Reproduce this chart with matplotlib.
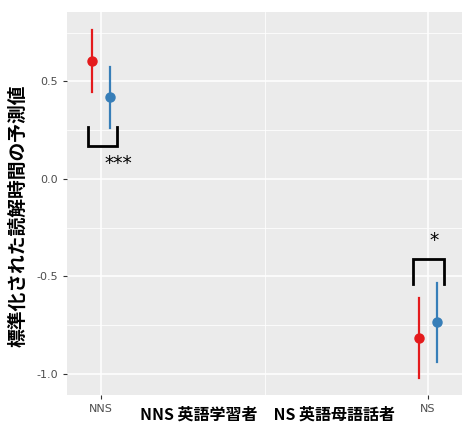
import matplotlib
matplotlib.use('Agg')
import matplotlib.pyplot as plt
from matplotlib.ticker import MultipleLocator

groups = ['NNS', 'NS']
conditions = ['red', 'blue']
red_mean = [0.605, -0.815]
red_low = [0.446, -1.02]
red_high = [0.764, -0.61]
blue_mean = [0.42, -0.733]
blue_low = [0.26, -0.938]
blue_high = [0.574, -0.533]

# significance brackets: x-left, x-right, y-open, y-closed, label
sig_nns = (0.960, 1.049, 0.267, 0.169, '***')
sig_ns = (1.954, 2.049, -0.538, -0.41, '*')

colors = {'red': '#E41A1C', 'blue': '#377EB8'}
dodge = 0.026

fig = plt.figure(figsize=(4.62, 4.25), dpi=100)
ax = fig.add_axes([67 / 462, 1 - 395 / 425, 1 - 67 / 462, 383 / 425])
ax.set_facecolor('#EBEBEB')

xs = [1, 2]
for i, x in enumerate(xs):
    ax.plot([x - dodge] * 2, [red_low[i], red_high[i]], color=colors['red'], lw=1.6, zorder=3)
    ax.plot(x - dodge, red_mean[i], 'o', color=colors['red'], ms=6.5, zorder=4)
    ax.plot([x + dodge] * 2, [blue_low[i], blue_high[i]], color=colors['blue'], lw=1.6, zorder=3)
    ax.plot(x + dodge, blue_mean[i], 'o', color=colors['blue'], ms=6.5, zorder=4)

for x0, x1, y_open, y_closed, lab in [sig_nns, sig_ns]:
    ax.plot([x0, x0, x1, x1], [y_open, y_closed, y_closed, y_open], color='black', lw=2.0,
            solid_joinstyle='miter', zorder=3)
ax.text(1.052, 0.077, sig_nns[4], ha='center', va='center', fontsize=13.5, color='black')
ax.text(2.018, -0.318, sig_ns[4], ha='center', va='center', fontsize=13.5, color='black')

ax.set_xlim(1 - 34 / 327, 2 + 34 / 327)
ax.set_ylim(-1.108, 0.856)
ax.set_xticks(xs)
ax.set_xticklabels(groups)
ax.set_xticks([1.5], minor=True)
ax.yaxis.set_major_locator(MultipleLocator(0.5))
ax.yaxis.set_minor_locator(MultipleLocator(0.25))
ax.set_yticks([0.5, 0.0, -0.5, -1.0])
ax.set_yticklabels(['0.5', '0.0', '-0.5', '-1.0'])

ax.grid(which='major', color='white', lw=1.1)
ax.grid(which='minor', color='white', lw=0.55)
ax.set_axisbelow(True)
for s in ax.spines.values():
    s.set_visible(False)
ax.tick_params(which='major', length=3, color='#333333', labelsize=8, labelcolor='#4D4D4D', width=0.8)
ax.tick_params(which='minor', length=0)

jp = ['Noto Sans CJK JP', 'DejaVu Sans']
fig.text(18 / 462, 1 - 216 / 425, '標準化された読解時間の予測値', rotation=90, ha='center', va='center',
         fontsize=13.5, fontweight='bold', family=jp)
fig.text(268 / 462, 1 - 415 / 425, 'NNS 英語学習者　NS 英語母語話者', ha='center', va='center',
         fontsize=11.5, fontweight='bold', family=jp)

fig.savefig('out.png', dpi=100)
